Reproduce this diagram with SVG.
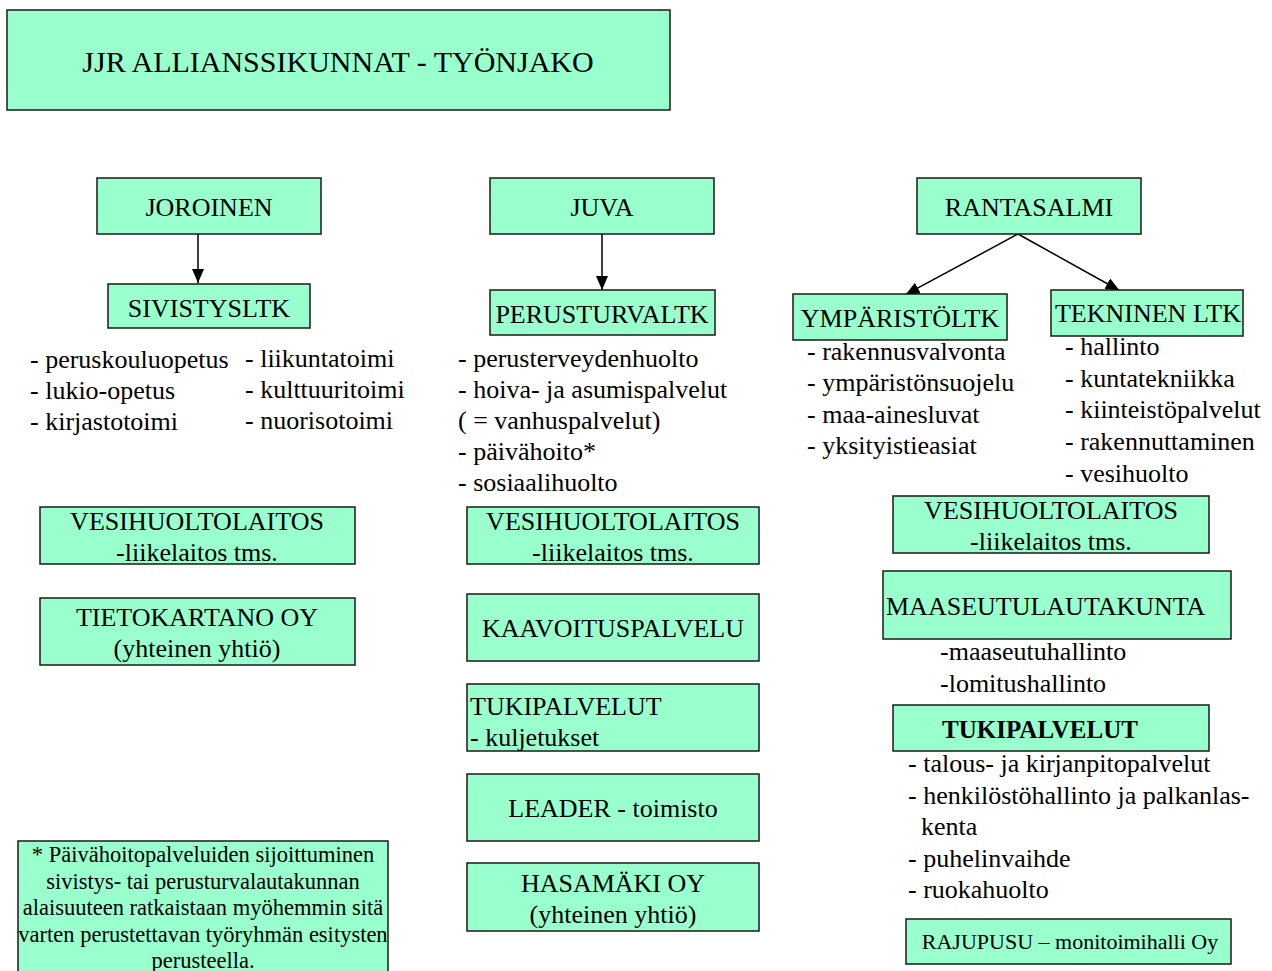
<svg xmlns="http://www.w3.org/2000/svg" width="1272" height="971" viewBox="0 0 1272 971">
<style>
.box{fill:#99FFCC;stroke:#1a1a1a;stroke-width:1.5}
text{font-family:"Liberation Serif","Times New Roman",serif;font-size:26px;fill:#000}
.c{text-anchor:middle}
.sm{font-size:22.5px}
.conn{stroke:#000;stroke-width:1.5;fill:none;marker-end:url(#ah)}
</style>
<defs>
<marker id="ah" markerUnits="userSpaceOnUse" markerWidth="14" markerHeight="12" refX="14" refY="6" orient="auto">
<path d="M0,0 L14,6 L0,12 z" fill="#000"/>
</marker>
</defs>
<rect width="1272" height="971" fill="#fff"/>
<g id="connectors">
<line class="conn" x1="198" y1="234" x2="198" y2="283"/>
<line class="conn" x1="602" y1="234" x2="602" y2="290"/>
<line class="conn" x1="1018" y1="234" x2="905.5" y2="294.7"/>
<line class="conn" x1="1018" y1="234" x2="1119.5" y2="290.5"/>
</g>
<g id="title">
<rect class="box" x="7" y="10" width="663" height="100"/>
<text class="c" x="338" y="72" style="font-size:30px">JJR ALLIANSSIKUNNAT - TYÖNJAKO</text>
</g>
<g id="joroinen">
<rect class="box" x="97" y="178" width="224" height="56"/>
<text class="c" x="209" y="216">JOROINEN</text>
</g>
<g id="sivistysltk">
<rect class="box" x="108" y="284" width="202" height="44"/>
<text class="c" x="209" y="317">SIVISTYSLTK</text>
</g>
<g id="sivistys-list">
<text x="30" y="368">- peruskouluopetus</text>
<text x="30" y="399">- lukio-opetus</text>
<text x="30" y="430">- kirjastotoimi</text>
<text x="245" y="367">- liikuntatoimi</text>
<text x="245" y="398">- kulttuuritoimi</text>
<text x="245" y="429">- nuorisotoimi</text>
</g>
<g id="juva">
<rect class="box" x="490" y="178" width="224" height="56"/>
<text class="c" x="602" y="216">JUVA</text>
</g>
<g id="perusturvaltk">
<rect class="box" x="490" y="290" width="225" height="45"/>
<text class="c" x="602" y="323">PERUSTURVALTK</text>
</g>
<g id="perusturva-list">
<text x="458" y="367">- perusterveydenhuolto</text>
<text x="458" y="398">- hoiva- ja asumispalvelut</text>
<text x="458" y="429">( = vanhuspalvelut)</text>
<text x="458" y="460">- päivähoito*</text>
<text x="458" y="491">- sosiaalihuolto</text>
</g>
<g id="rantasalmi">
<rect class="box" x="917" y="178" width="224" height="56"/>
<text class="c" x="1029" y="216">RANTASALMI</text>
</g>
<g id="ymparistoltk">
<rect class="box" x="793" y="294" width="214" height="46"/>
<text class="c" x="900" y="327">YMPÄRISTÖLTK</text>
</g>
<g id="ymparisto-list">
<text x="807" y="359.5">- rakennusvalvonta</text>
<text x="807" y="391">- ympäristönsuojelu</text>
<text x="807" y="422.5">- maa-ainesluvat</text>
<text x="807" y="454">- yksityistieasiat</text>
</g>
<g id="tekninenltk">
<rect class="box" x="1051" y="290" width="192" height="46"/>
<text class="c" x="1148" y="322">TEKNINEN LTK</text>
</g>
<g id="tekninen-list">
<text x="1065" y="355">- hallinto</text>
<text x="1065" y="386.7">- kuntatekniikka</text>
<text x="1065" y="418.4">- kiinteistöpalvelut</text>
<text x="1065" y="450">- rakennuttaminen</text>
<text x="1065" y="481.7">- vesihuolto</text>
</g>
<g id="vesihuolto-joroinen">
<rect class="box" x="40" y="507" width="315" height="57"/>
<text class="c" x="197" y="530">VESIHUOLTOLAITOS</text>
<text class="c" x="197" y="561">-liikelaitos tms.</text>
</g>
<g id="tietokartano">
<rect class="box" x="40" y="598" width="315" height="67"/>
<text class="c" x="197" y="626">TIETOKARTANO OY</text>
<text class="c" x="197" y="657">(yhteinen yhtiö)</text>
</g>
<g id="vesihuolto-juva">
<rect class="box" x="467" y="507" width="292" height="57"/>
<text class="c" x="613" y="530">VESIHUOLTOLAITOS</text>
<text class="c" x="613" y="561">-liikelaitos tms.</text>
</g>
<g id="kaavoitus">
<rect class="box" x="467" y="594" width="292" height="67"/>
<text class="c" x="613" y="637">KAAVOITUSPALVELU</text>
</g>
<g id="tukipalvelut-juva">
<rect class="box" x="467" y="684" width="292" height="67"/>
<text x="470" y="715">TUKIPALVELUT</text>
<text x="470" y="746">- kuljetukset</text>
</g>
<g id="leader">
<rect class="box" x="467" y="774" width="292" height="67"/>
<text class="c" x="613" y="817">LEADER - toimisto</text>
</g>
<g id="hasamaki">
<rect class="box" x="467" y="863" width="292" height="68"/>
<text class="c" x="613" y="892">HASAMÄKI OY</text>
<text class="c" x="613" y="923">(yhteinen yhtiö)</text>
</g>
<g id="vesihuolto-rantasalmi">
<rect class="box" x="893" y="496" width="316" height="57"/>
<text class="c" x="1051" y="519">VESIHUOLTOLAITOS</text>
<text class="c" x="1051" y="550">-liikelaitos tms.</text>
</g>
<g id="maaseutulautakunta">
<rect class="box" x="883" y="571" width="348" height="68"/>
<text x="886" y="615">MAASEUTULAUTAKUNTA</text>
</g>
<g id="maaseutu-list">
<text x="940" y="660">-maaseutuhallinto</text>
<text x="940" y="692">-lomitushallinto</text>
</g>
<g id="tukipalvelut-rantasalmi">
<rect class="box" x="893" y="705" width="316" height="46"/>
<text class="c" x="1040" y="738" style="font-weight:bold;font-size:25px">TUKIPALVELUT</text>
</g>
<g id="tukipalvelut-list">
<text x="908" y="772">- talous- ja kirjanpitopalvelut</text>
<text x="908" y="803.5">- henkilöstöhallinto ja palkanlas-</text>
<text x="921" y="835">kenta</text>
<text x="908" y="866.5">- puhelinvaihde</text>
<text x="908" y="898">- ruokahuolto</text>
</g>
<g id="rajupusu">
<rect class="box" x="906" y="919" width="325" height="45"/>
<text class="c sm" x="1070" y="949" style="font-size:22px">RAJUPUSU – monitoimihalli Oy</text>
</g>
<g id="footnote">
<rect class="box" x="18" y="841" width="370" height="140"/>
<text class="c sm" x="203" y="862">* Päivähoitopalveluiden sijoittuminen</text>
<text class="c sm" x="203" y="889">sivistys- tai perusturvalautakunnan</text>
<text class="c sm" x="203" y="915">alaisuuteen ratkaistaan myöhemmin sitä</text>
<text class="c sm" x="203" y="942">varten perustettavan työryhmän esitysten</text>
<text class="c sm" x="203" y="968">perusteella.</text>
</g>
</svg>
